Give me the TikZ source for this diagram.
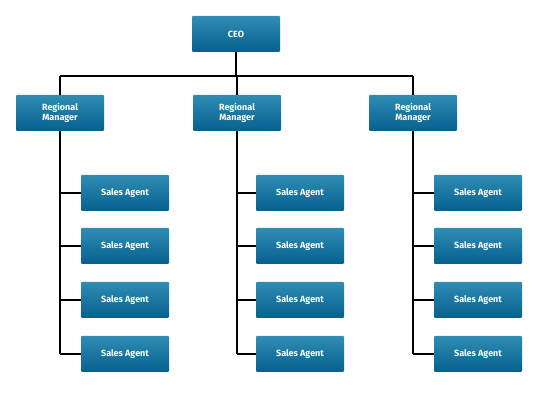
\documentclass[tikz,border=0pt]{standalone}
\usepackage{fontspec}
\setmainfont{Fira Sans}
\begin{document}
\begin{tikzpicture}[x=1pt,y=-1pt,
  box/.style={draw=none,minimum width=88pt,minimum height=36pt,inner sep=0pt,
    top color=topc,bottom color=botc,text=white,font=\fontsize{9}{10}\selectfont\bfseries,
    align=center,rounded corners=1pt},
  ln/.style={draw=black,line width=1.2pt}]
\definecolor{topc}{HTML}{2F8DB3}
\definecolor{botc}{HTML}{06608F}
\useasboundingbox (0,0) rectangle (550,403);
\node[box] (ceo) at (236,34) {CEO};
\foreach \n/\x/\ax in {a/60/125,b/237/300,c/413/478}{
  \node[box] (rm\n) at (\x,113) {Regional\\Manager};
  \coordinate (t\n) at (\x,76);
  \foreach \i/\y in {1/193,2/246,3/300,4/354}{
    \node[box] (s\n\i) at (\ax,\y) {Sales Agent};
    \coordinate (j\n\i) at (\x,\y);
  }
}
\draw[ln] (ceo.south) -- (ceo.south |- tb);
\draw[ln] (ta) -- (tc);
\foreach \n in {a,b,c}{
  \draw[ln] (t\n) -- (rm\n.north);
  \draw[ln] (rm\n.south) -- (j\n4);
  \foreach \i in {1,2,3,4}{\draw[ln] (j\n\i) -- (s\n\i.west);}
}
\end{tikzpicture}
\end{document}
